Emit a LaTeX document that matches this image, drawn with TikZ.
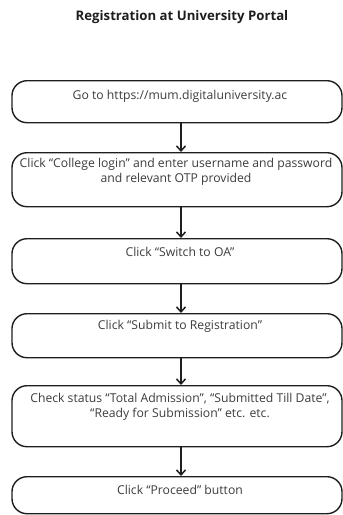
\documentclass[tikz,border=0pt]{standalone}
\usepackage{fontspec}
\setmainfont{Open Sans}
\usetikzlibrary{arrows.meta,positioning}
\definecolor{ink}{HTML}{1E1E1E}
\definecolor{txt}{HTML}{3C3C3C}
\tikzset{
  stepbox/.style={draw=ink, line width=1.4pt, rounded corners=15pt,
    minimum width=330pt, inner sep=0pt},
  steptext/.style={anchor=north, align=center, text=txt,
    font=\fontsize{12.2}{15}\selectfont, inner sep=0pt},
  flow/.style={draw=ink, line width=1.5pt,
    -{Straight Barb[length=5pt,width=9pt,line width=1.5pt]}},
}
\begin{document}
\begin{tikzpicture}[x=1pt,y=-1pt]
  \useasboundingbox (0,0) rectangle (343,515);
  \node[font=\bfseries\fontsize{13.2}{15}\selectfont, text=ink] (title) at (182,17)
    {Registration at University Portal};

  % process steps (top edge, height)
  \node[stepbox, minimum height=42pt, anchor=north] (b1) at (177,80) {};
  \node[stepbox, minimum height=54pt, anchor=north] (b2) at (177,152) {};
  \node[stepbox, minimum height=45pt, anchor=north] (b3) at (177,238) {};
  \node[stepbox, minimum height=44pt, anchor=north] (b4) at (177,313) {};
  \node[stepbox, minimum height=61pt, anchor=north] (b5) at (177,385) {};
  \node[stepbox, minimum height=37pt, anchor=north] (b6) at (177,476) {};

  \node[steptext] (t1) at ([xshift=3pt,yshift=-10pt]b1.north) {Go to https://mum.digitaluniversity.ac};
  \node[steptext] (t2) at ([xshift=-1pt,yshift=-6pt]b2.north)
    {Click “College login” and enter username and password\\ and relevant OTP provided};
  \node[steptext] (t3) at ([xshift=3pt,yshift=-9pt]b3.north) {Click “Switch to OA”};
  \node[steptext] (t4) at ([xshift=3pt,yshift=-7pt]b4.north) {Click “Submit to Registration”};
  \node[steptext] (t5) at ([xshift=3pt,yshift=-8pt]b5.north)
    {Check status “Total Admission”, “Submitted Till Date”,\\ “Ready for Submission” etc. etc.};
  \node[steptext] (t6) at ([xshift=3pt,yshift=-9pt]b6.north) {Click “Proceed” button};

  % connectors run slightly right of the box centre line
  \coordinate (ax) at (181,0);
  \draw[flow] (b1.south -| ax) -- (b2.north -| ax);
  \draw[flow] (b2.south -| ax) -- (b3.north -| ax);
  \draw[flow] (b3.south -| ax) -- (b4.north -| ax);
  \draw[flow] (b4.south -| ax) -- (b5.north -| ax);
  \draw[flow] (b5.south -| ax) -- (b6.north -| ax);
\end{tikzpicture}
\end{document}
